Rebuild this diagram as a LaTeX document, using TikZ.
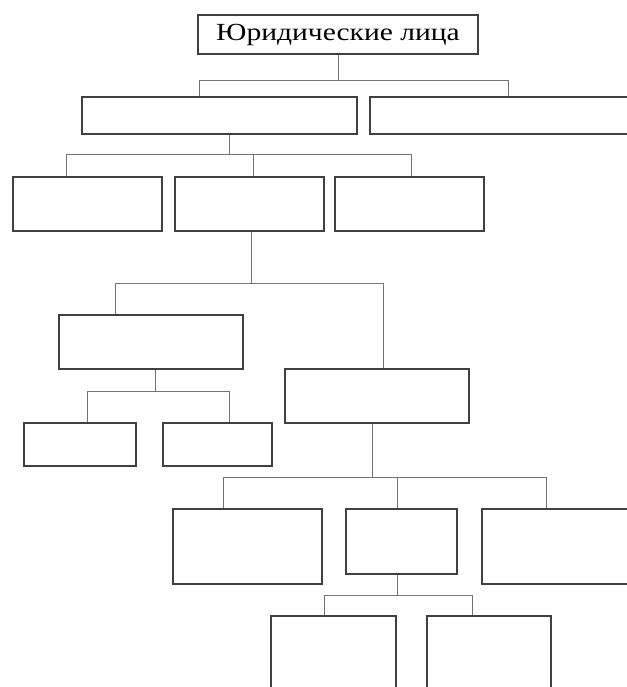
\documentclass[tikz,border=0pt]{standalone}
\usepackage{graphicx}
\usepackage{fontspec}
\setmainfont{Liberation Serif}

\begin{document}
\begin{tikzpicture}[
    x=0.03cm, y=-0.03cm,
    linkstyle/.style={draw=black!55, line width=0.8pt},
    block/.style 2 args={rectangle, draw=black!75, line width=1.3pt, inner sep=0pt,
        minimum width=#1*0.03cm, minimum height=#2*0.03cm},
    title/.style={font=\fontsize{21}{24}\selectfont}
]
\useasboundingbox (0,0) rectangle (627,687);
\clip (0,0) rectangle (627,687);
\node (Root) [block={280}{39}, title] at (338,34.5) {\scalebox{1.2}[1]{Юридические лица}};
\node (Level1a) [block={275}{37}] at (219.5,115.5) {};
\node (Level1b) [block={290}{37}] at (515,115.5) {};
\node (Level2a) [block={149}{54}] at (87.5,204) {};
\node (Level2b) [block={149}{54}] at (249.5,204) {};
\node (Level2c) [block={149}{54}] at (409.5,204) {};
\node (Level3a) [block={184}{54}] at (151,342) {};
\node (Level3b) [block={184}{54}] at (377,396) {};
\node (Level4a) [block={112}{43}] at (80,444.5) {};
\node (Level4b) [block={109}{43}] at (217.5,444.5) {};
\node (Level4c) [block={149}{75}] at (247.5,546.5) {};
\node (Level4d) [block={111}{65}] at (401.5,541.5) {};
\node (Level4e) [block={158}{75}] at (561,546.5) {};
\node (Level5a) [block={125}{88}] at (333.5,660) {};
\node (Level5b) [block={124}{88}] at (489,660) {};
% connectors
\draw [linkstyle] (Root.south -| 338,0) -- (338,80) -| (Level1a.north -| 199,0);
\draw [linkstyle] (Root.south -| 338,0) -- (338,80) -| (Level1b.north -| 508,0);
\draw [linkstyle] (Level1a.south -| 229,0) -- (229,154) -| (Level2a.north -| 66,0);
\draw [linkstyle] (Level1a.south -| 229,0) -- (229,154) -| (Level2b.north -| 253,0);
\draw [linkstyle] (Level1a.south -| 229,0) -- (229,154) -| (Level2c.north -| 411,0);
\draw [linkstyle] (Level2b.south -| 251,0) -- (251,283) -| (Level3a.north -| 115,0);
\draw [linkstyle] (Level2b.south -| 251,0) -- (251,283) -| (Level3b.north -| 383,0);
\draw [linkstyle] (Level3a.south -| 155,0) -- (155,391) -| (Level4a.north -| 87,0);
\draw [linkstyle] (Level3a.south -| 155,0) -- (155,391) -| (Level4b.north -| 229,0);
\draw [linkstyle] (Level3b.south -| 372,0) -- (372,477) -| (Level4c.north -| 223,0);
\draw [linkstyle] (Level3b.south -| 372,0) -- (372,477) -| (Level4d.north -| 397,0);
\draw [linkstyle] (Level3b.south -| 372,0) -- (372,477) -| (Level4e.north -| 546,0);
\draw [linkstyle] (Level4d.south -| 397,0) -- (397,595) -| (Level5a.north -| 324,0);
\draw [linkstyle] (Level4d.south -| 397,0) -- (397,595) -| (Level5b.north -| 472,0);
\end{tikzpicture}
\end{document}
